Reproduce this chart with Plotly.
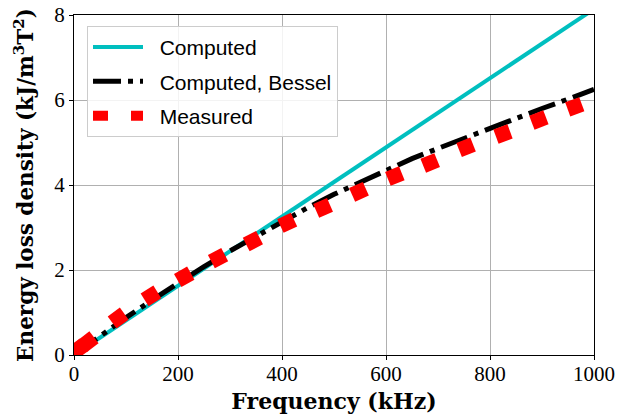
import numpy as np
import plotly.graph_objects as go

# ---- data ----
freq_computed = [0, 100, 200, 300, 400, 500, 600, 700, 800, 900, 1000]
energy_computed = [0, 0.814, 1.628, 2.442, 3.256, 4.07, 4.884, 5.698, 6.512, 7.326, 8.14]

freq_bessel = [0, 50, 100, 150, 200, 250, 300, 350, 400, 450, 500, 550, 600, 650,
               700, 750, 800, 850, 900, 950, 1000]
energy_bessel = [0, 0.45, 0.88, 1.29, 1.70, 2.08, 2.45, 2.80, 3.14, 3.47, 3.78, 4.07,
                 4.35, 4.62, 4.86, 5.10, 5.33, 5.56, 5.80, 6.02, 6.25]

freq_measured = [8, 27, 85, 148, 212, 277, 344, 410, 479, 548, 617, 685, 754, 825, 894, 963]
energy_measured = [0.14, 0.31, 0.87, 1.39, 1.84, 2.28, 2.68, 3.11, 3.46, 3.84, 4.21,
                   4.52, 4.89, 5.20, 5.53, 5.84]

x_ticks = [0, 200, 400, 600, 800, 1000]
y_ticks = [0, 2, 4, 6, 8]

# ---- layout geometry ----
FW, FH = 626, 420
ML, MR, MT, MB = 74, 32, 15, 65
XR = [0, 1000]
YR = [0, 8]
sx = (FW - ML - MR) / (XR[1] - XR[0])
sy = (FH - MT - MB) / (YR[1] - YR[0])
dxp = np.gradient(np.array(freq_measured, float)) * sx
dyp = np.gradient(np.array(energy_measured, float)) * sy
angles = (-np.degrees(np.arctan2(dyp, dxp))).tolist()

NB = "\u00a0\u00a0"

fig = go.Figure()
fig.add_trace(go.Scatter(x=freq_computed, y=energy_computed, mode="lines",
                         name=NB + "Computed", legendgroup="a",
                         line=dict(color="#00bfbf", width=4)))
fig.add_trace(go.Scatter(x=freq_bessel, y=energy_bessel, mode="lines",
                         name=NB + "Computed, Bessel", legendgroup="b",
                         line=dict(color="black", width=5, dash="28px,7px,5px,7px")))
fig.add_trace(go.Scatter(x=freq_measured, y=energy_measured, mode="markers",
                         name="Measured", showlegend=False, legendgroup="c",
                         marker=dict(symbol="square", size=15, color="#ff0000",
                                     angle=angles, line=dict(width=0))))
fig.add_trace(go.Scatter(x=[None], y=[None], mode="lines", name=NB + "Measured",
                         legendgroup="c",
                         line=dict(color="#ff0000", width=15, dash="15px,23px")))

axis_common = dict(showline=True, linecolor="black", linewidth=1.3, mirror=True,
                   ticks="outside", ticklen=4, tickcolor="black", tickwidth=1.2,
                   showgrid=True, gridcolor="#b0b0b0", gridwidth=1, zeroline=False,
                   automargin=False,
                   tickfont=dict(family="Liberation Serif", size=21, color="black"))

fig.update_layout(
    width=FW, height=FH,
    margin=dict(l=ML, r=MR, t=MT, b=MB, autoexpand=False),
    plot_bgcolor="white", paper_bgcolor="white",
    xaxis=dict(range=XR, tickvals=x_ticks, **axis_common, ticklabelstandoff=-4,
               title=dict(text="<b>Frequency (kHz)</b>", standoff=8,
                          font=dict(family="DejaVu Serif", size=22, color="black"))),
    yaxis=dict(range=YR, tickvals=y_ticks, **axis_common,
               title=dict(text="<b>Energy loss density (kJ/m<sup>3</sup>T<sup>2</sup>)</b>",
                          standoff=14,
                          font=dict(family="DejaVu Serif", size=21.5, color="black"))),
    legend=dict(x=0.025, y=0.968, xanchor="left", yanchor="top",
                bgcolor="rgba(255,255,255,0.85)", bordercolor="#cccccc", borderwidth=1,
                font=dict(family="Liberation Sans", size=21, color="black"),
                itemwidth=50, tracegroupgap=4, traceorder="grouped"),
    showlegend=True,
)

fig.write_html("out.html", config={"displayModeBar": False})
with open("out.html", "r", encoding="utf-8") as f:
    html = f.read()
html = html.replace("<body>", "<body style=\"margin:0;padding:0;overflow:hidden\">", 1)
with open("out.html", "w", encoding="utf-8") as f:
    f.write(html)
